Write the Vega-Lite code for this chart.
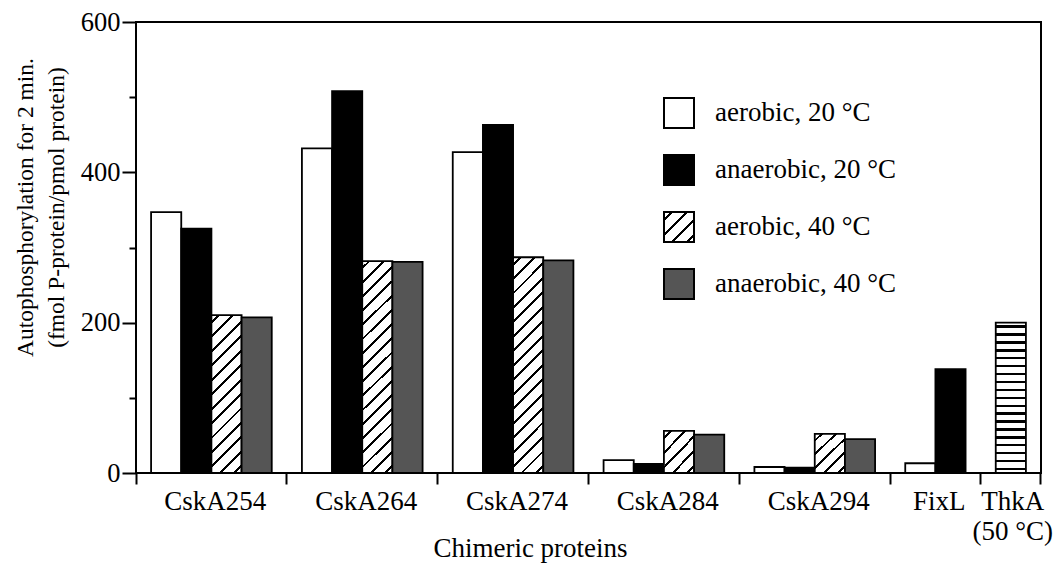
{
  "$schema": "https://vega.github.io/schema/vega-lite/v6.json",
  "width": 905,
  "height": 451,
  "autosize": {"type": "none"},
  "padding": {"left": 136, "top": 22, "right": 18, "bottom": 90},
  "background": "white",
  "config": {
    "font": "Liberation Serif",
    "view": {"stroke": "black", "strokeWidth": 2},
    "axis": {"labelFont": "Liberation Serif", "titleFont": "Liberation Serif", "labelColor": "black", "titleColor": "black", "tickColor": "black", "domainColor": "black", "grid": false, "titleFontWeight": "normal"}
  },
  "data": {
    "values": [
      {"protein": "CskA254", "condition": "aerobic, 20 °C", "bar": "CskA254-1", "value": 347},
      {"protein": "CskA254", "condition": "anaerobic, 20 °C", "bar": "CskA254-2", "value": 325},
      {"protein": "CskA254", "condition": "aerobic, 40 °C", "bar": "CskA254-3", "value": 210},
      {"protein": "CskA254", "condition": "anaerobic, 40 °C", "bar": "CskA254-4", "value": 207},
      {"protein": "CskA264", "condition": "aerobic, 20 °C", "bar": "CskA264-1", "value": 432},
      {"protein": "CskA264", "condition": "anaerobic, 20 °C", "bar": "CskA264-2", "value": 508},
      {"protein": "CskA264", "condition": "aerobic, 40 °C", "bar": "CskA264-3", "value": 282},
      {"protein": "CskA264", "condition": "anaerobic, 40 °C", "bar": "CskA264-4", "value": 281},
      {"protein": "CskA274", "condition": "aerobic, 20 °C", "bar": "CskA274-1", "value": 427},
      {"protein": "CskA274", "condition": "anaerobic, 20 °C", "bar": "CskA274-2", "value": 463},
      {"protein": "CskA274", "condition": "aerobic, 40 °C", "bar": "CskA274-3", "value": 287},
      {"protein": "CskA274", "condition": "anaerobic, 40 °C", "bar": "CskA274-4", "value": 283},
      {"protein": "CskA284", "condition": "aerobic, 20 °C", "bar": "CskA284-1", "value": 17},
      {"protein": "CskA284", "condition": "anaerobic, 20 °C", "bar": "CskA284-2", "value": 12},
      {"protein": "CskA284", "condition": "aerobic, 40 °C", "bar": "CskA284-3", "value": 56},
      {"protein": "CskA284", "condition": "anaerobic, 40 °C", "bar": "CskA284-4", "value": 51},
      {"protein": "CskA294", "condition": "aerobic, 20 °C", "bar": "CskA294-1", "value": 8},
      {"protein": "CskA294", "condition": "anaerobic, 20 °C", "bar": "CskA294-2", "value": 7},
      {"protein": "CskA294", "condition": "aerobic, 40 °C", "bar": "CskA294-3", "value": 52},
      {"protein": "CskA294", "condition": "anaerobic, 40 °C", "bar": "CskA294-4", "value": 45},
      {"protein": "FixL", "condition": "aerobic, 20 °C", "bar": "FixL-1", "value": 13},
      {"protein": "FixL", "condition": "anaerobic, 20 °C", "bar": "FixL-2", "value": 138},
      {"protein": "ThkA", "condition": "ThkA (50 °C)", "bar": "ThkA-1", "value": 200}
    ]
  },
  "mark": {"type": "bar", "stroke": "black", "strokeWidth": 1.8},
  "encoding": {
    "x": {
      "field": "bar",
      "type": "nominal",
      "title": "Chimeric proteins",
      "scale": {
        "type": "band",
        "paddingInner": 0,
        "paddingOuter": 0,
        "range": [-15.08, 920.08],
        "domain": ["end0", "CskA254-1", "CskA254-2", "CskA254-3", "CskA254-4", "gap1", "CskA264-1", "CskA264-2", "CskA264-3", "CskA264-4", "gap2", "CskA274-1", "CskA274-2", "CskA274-3", "CskA274-4", "gap3", "CskA284-1", "CskA284-2", "CskA284-3", "CskA284-4", "gap4", "CskA294-1", "CskA294-2", "CskA294-3", "CskA294-4", "gap5", "FixL-1", "FixL-2", "gap6", "ThkA-1", "end1"]
      },
      "axis": {
        "values": ["end0", "CskA254-2", "gap1", "CskA264-2", "gap2", "CskA274-2", "gap3", "CskA284-2", "gap4", "CskA294-2", "gap5", "FixL-1", "gap6", "ThkA-1", "end1"],
        "labelExpr": "datum.value == 'ThkA-1' ? ['ThkA', '(50 °C)'] : (indexof(datum.value, 'gap') == 0 || indexof(datum.value, 'end') == 0 ? '' : split(datum.value, '-')[0])",
        "labelAngle": 0,
        "labelOverlap": false,
        "labelFontSize": 27,
        "labelLineHeight": 30,
        "labelPadding": 4,
        "labelOffset": {"condition": {"test": "datum.value == 'ThkA-1'", "value": 2}, "value": 19},
        "tickSize": 11,
        "tickWidth": 2,
        "tickOpacity": {"condition": {"test": "indexof(datum.value, 'gap') == 0 || indexof(datum.value, 'end') == 0", "value": 1}, "value": 0},
        "domain": false,
        "titleFontSize": 27,
        "titleX": 394,
        "titleY": 83,
        "titleBaseline": "alphabetic"
      }
    },
    "y": {
      "field": "value",
      "type": "quantitative",
      "title": ["Autophosphorylation for 2 min.", "(fmol P-protein/pmol protein)"],
      "scale": {"domain": [0, 600], "nice": false},
      "axis": {
        "values": [0, 100, 200, 300, 400, 500, 600],
        "labelExpr": "datum.value % 200 == 0 ? datum.label : ''",
        "tickSize": {"condition": {"test": "datum.value % 200 != 0", "value": 7}, "value": 14},
        "tickWidth": 2,
        "domain": false,
        "labelFontSize": 26.5,
        "labelPadding": 2,
        "titleFontSize": 23.5,
        "titleLineHeight": 31,
        "titleX": -104,
        "titleY": 185,
        "titleAngle": -90,
        "titleAlign": "center",
        "titleBaseline": "alphabetic"
      }
    },
    "fill": {
      "field": "condition",
      "type": "nominal",
      "scale": {
        "domain": ["aerobic, 20 °C", "anaerobic, 20 °C", "aerobic, 40 °C", "anaerobic, 40 °C"],
        "range": ["#ffffff", "#000000", {"expr": "{gradient: 'linear', x1: 0, y1: 0, x2: 1, y2: 1, stops: [{offset: 0, color: '#fff'}, {offset: 0.1, color: '#fff'}, {offset: 0.1, color: '#000'}, {offset: 0.15, color: '#000'}, {offset: 0.15, color: '#fff'}, {offset: 0.35, color: '#fff'}, {offset: 0.35, color: '#000'}, {offset: 0.4, color: '#000'}, {offset: 0.4, color: '#fff'}, {offset: 0.6, color: '#fff'}, {offset: 0.6, color: '#000'}, {offset: 0.65, color: '#000'}, {offset: 0.65, color: '#fff'}, {offset: 0.85, color: '#fff'}, {offset: 0.85, color: '#000'}, {offset: 0.9, color: '#000'}, {offset: 0.9, color: '#fff'}, {offset: 1, color: '#fff'}]}"}, "#555555"]
      },
      "legend": {
        "orient": "none",
        "legendX": 527,
        "legendY": 75,
        "title": null,
        "symbolType": "square",
        "symbolSize": 900,
        "symbolStrokeColor": "black",
        "symbolStrokeWidth": 2,
        "symbolOpacity": 1,
        "labelFont": "Liberation Serif",
        "labelFontSize": 27,
        "labelColor": "black",
        "labelOffset": 20,
        "labelLimit": 400,
        "rowPadding": 19,
        "encode": {
          "symbols": {
            "update": {
              "stroke": {"value": "black"},
              "strokeWidth": {"value": 2}
            }
          }
        }
      },
      "condition": [
        {"test": "datum.bar === 'CskA254-3'", "value": {"gradient": "linear", "x1": 0, "y1": 0, "x2": 0.2194, "y2": 1.149, "stops": [
          {"offset": 0, "color": "#fff"},
          {"offset": 0.0308, "color": "#fff"}, {"offset": 0.0308, "color": "#000"}, {"offset": 0.0462, "color": "#000"}, {"offset": 0.0462, "color": "#fff"},
          {"offset": 0.1077, "color": "#fff"}, {"offset": 0.1077, "color": "#000"}, {"offset": 0.1231, "color": "#000"}, {"offset": 0.1231, "color": "#fff"},
          {"offset": 0.1846, "color": "#fff"}, {"offset": 0.1846, "color": "#000"}, {"offset": 0.2, "color": "#000"}, {"offset": 0.2, "color": "#fff"},
          {"offset": 0.2615, "color": "#fff"}, {"offset": 0.2615, "color": "#000"}, {"offset": 0.2769, "color": "#000"}, {"offset": 0.2769, "color": "#fff"},
          {"offset": 0.3385, "color": "#fff"}, {"offset": 0.3385, "color": "#000"}, {"offset": 0.3538, "color": "#000"}, {"offset": 0.3538, "color": "#fff"},
          {"offset": 0.4154, "color": "#fff"}, {"offset": 0.4154, "color": "#000"}, {"offset": 0.4308, "color": "#000"}, {"offset": 0.4308, "color": "#fff"},
          {"offset": 0.4923, "color": "#fff"}, {"offset": 0.4923, "color": "#000"}, {"offset": 0.5077, "color": "#000"}, {"offset": 0.5077, "color": "#fff"},
          {"offset": 0.5692, "color": "#fff"}, {"offset": 0.5692, "color": "#000"}, {"offset": 0.5846, "color": "#000"}, {"offset": 0.5846, "color": "#fff"},
          {"offset": 0.6462, "color": "#fff"}, {"offset": 0.6462, "color": "#000"}, {"offset": 0.6615, "color": "#000"}, {"offset": 0.6615, "color": "#fff"},
          {"offset": 0.7231, "color": "#fff"}, {"offset": 0.7231, "color": "#000"}, {"offset": 0.7385, "color": "#000"}, {"offset": 0.7385, "color": "#fff"},
          {"offset": 0.8, "color": "#fff"}, {"offset": 0.8, "color": "#000"}, {"offset": 0.8154, "color": "#000"}, {"offset": 0.8154, "color": "#fff"},
          {"offset": 0.8769, "color": "#fff"}, {"offset": 0.8769, "color": "#000"}, {"offset": 0.8923, "color": "#000"}, {"offset": 0.8923, "color": "#fff"},
          {"offset": 0.9538, "color": "#fff"}, {"offset": 0.9538, "color": "#000"}, {"offset": 0.9692, "color": "#000"}, {"offset": 0.9692, "color": "#fff"},
          {"offset": 1, "color": "#fff"}
        ]}},
        {"test": "datum.bar === 'CskA264-3' || datum.bar === 'CskA274-3'", "value": {"gradient": "linear", "x1": 0, "y1": 0, "x2": 0.157, "y2": 1.118, "stops": [
          {"offset": 0, "color": "#fff"},
          {"offset": 0.0235, "color": "#fff"}, {"offset": 0.0235, "color": "#000"}, {"offset": 0.0353, "color": "#000"}, {"offset": 0.0353, "color": "#fff"},
          {"offset": 0.0824, "color": "#fff"}, {"offset": 0.0824, "color": "#000"}, {"offset": 0.0941, "color": "#000"}, {"offset": 0.0941, "color": "#fff"},
          {"offset": 0.1412, "color": "#fff"}, {"offset": 0.1412, "color": "#000"}, {"offset": 0.1529, "color": "#000"}, {"offset": 0.1529, "color": "#fff"},
          {"offset": 0.2, "color": "#fff"}, {"offset": 0.2, "color": "#000"}, {"offset": 0.2118, "color": "#000"}, {"offset": 0.2118, "color": "#fff"},
          {"offset": 0.2588, "color": "#fff"}, {"offset": 0.2588, "color": "#000"}, {"offset": 0.2706, "color": "#000"}, {"offset": 0.2706, "color": "#fff"},
          {"offset": 0.3176, "color": "#fff"}, {"offset": 0.3176, "color": "#000"}, {"offset": 0.3294, "color": "#000"}, {"offset": 0.3294, "color": "#fff"},
          {"offset": 0.3765, "color": "#fff"}, {"offset": 0.3765, "color": "#000"}, {"offset": 0.3882, "color": "#000"}, {"offset": 0.3882, "color": "#fff"},
          {"offset": 0.4353, "color": "#fff"}, {"offset": 0.4353, "color": "#000"}, {"offset": 0.4471, "color": "#000"}, {"offset": 0.4471, "color": "#fff"},
          {"offset": 0.4941, "color": "#fff"}, {"offset": 0.4941, "color": "#000"}, {"offset": 0.5059, "color": "#000"}, {"offset": 0.5059, "color": "#fff"},
          {"offset": 0.5529, "color": "#fff"}, {"offset": 0.5529, "color": "#000"}, {"offset": 0.5647, "color": "#000"}, {"offset": 0.5647, "color": "#fff"},
          {"offset": 0.6118, "color": "#fff"}, {"offset": 0.6118, "color": "#000"}, {"offset": 0.6235, "color": "#000"}, {"offset": 0.6235, "color": "#fff"},
          {"offset": 0.6706, "color": "#fff"}, {"offset": 0.6706, "color": "#000"}, {"offset": 0.6824, "color": "#000"}, {"offset": 0.6824, "color": "#fff"},
          {"offset": 0.7294, "color": "#fff"}, {"offset": 0.7294, "color": "#000"}, {"offset": 0.7412, "color": "#000"}, {"offset": 0.7412, "color": "#fff"},
          {"offset": 0.7882, "color": "#fff"}, {"offset": 0.7882, "color": "#000"}, {"offset": 0.8, "color": "#000"}, {"offset": 0.8, "color": "#fff"},
          {"offset": 0.8471, "color": "#fff"}, {"offset": 0.8471, "color": "#000"}, {"offset": 0.8588, "color": "#000"}, {"offset": 0.8588, "color": "#fff"},
          {"offset": 0.9059, "color": "#fff"}, {"offset": 0.9059, "color": "#000"}, {"offset": 0.9176, "color": "#000"}, {"offset": 0.9176, "color": "#fff"},
          {"offset": 0.9647, "color": "#fff"}, {"offset": 0.9647, "color": "#000"}, {"offset": 0.9765, "color": "#000"}, {"offset": 0.9765, "color": "#fff"},
          {"offset": 1, "color": "#fff"}
        ]}},
        {"test": "datum.bar === 'CskA284-3' || datum.bar === 'CskA294-3'", "value": {"gradient": "linear", "x1": 0, "y1": 0, "x2": 0.836, "y2": 1.12, "stops": [
          {"offset": 0, "color": "#fff"},
          {"offset": 0.08, "color": "#fff"}, {"offset": 0.08, "color": "#000"}, {"offset": 0.12, "color": "#000"}, {"offset": 0.12, "color": "#fff"},
          {"offset": 0.28, "color": "#fff"}, {"offset": 0.28, "color": "#000"}, {"offset": 0.32, "color": "#000"}, {"offset": 0.32, "color": "#fff"},
          {"offset": 0.48, "color": "#fff"}, {"offset": 0.48, "color": "#000"}, {"offset": 0.52, "color": "#000"}, {"offset": 0.52, "color": "#fff"},
          {"offset": 0.68, "color": "#fff"}, {"offset": 0.68, "color": "#000"}, {"offset": 0.72, "color": "#000"}, {"offset": 0.72, "color": "#fff"},
          {"offset": 0.88, "color": "#fff"}, {"offset": 0.88, "color": "#000"}, {"offset": 0.92, "color": "#000"}, {"offset": 0.92, "color": "#fff"},
          {"offset": 1, "color": "#fff"}
        ]}},
        {"test": "datum.bar === 'ThkA-1'", "value": {"gradient": "linear", "x1": 0, "y1": 0, "x2": 0, "y2": 1, "stops": [
          {"offset": 0, "color": "#fff"},
          {"offset": 0.0184, "color": "#fff"}, {"offset": 0.0184, "color": "#000"}, {"offset": 0.0342, "color": "#000"}, {"offset": 0.0342, "color": "#fff"},
          {"offset": 0.0711, "color": "#fff"}, {"offset": 0.0711, "color": "#000"}, {"offset": 0.0868, "color": "#000"}, {"offset": 0.0868, "color": "#fff"},
          {"offset": 0.1237, "color": "#fff"}, {"offset": 0.1237, "color": "#000"}, {"offset": 0.1395, "color": "#000"}, {"offset": 0.1395, "color": "#fff"},
          {"offset": 0.1763, "color": "#fff"}, {"offset": 0.1763, "color": "#000"}, {"offset": 0.1921, "color": "#000"}, {"offset": 0.1921, "color": "#fff"},
          {"offset": 0.2289, "color": "#fff"}, {"offset": 0.2289, "color": "#000"}, {"offset": 0.2447, "color": "#000"}, {"offset": 0.2447, "color": "#fff"},
          {"offset": 0.2816, "color": "#fff"}, {"offset": 0.2816, "color": "#000"}, {"offset": 0.2974, "color": "#000"}, {"offset": 0.2974, "color": "#fff"},
          {"offset": 0.3342, "color": "#fff"}, {"offset": 0.3342, "color": "#000"}, {"offset": 0.35, "color": "#000"}, {"offset": 0.35, "color": "#fff"},
          {"offset": 0.3868, "color": "#fff"}, {"offset": 0.3868, "color": "#000"}, {"offset": 0.4026, "color": "#000"}, {"offset": 0.4026, "color": "#fff"},
          {"offset": 0.4395, "color": "#fff"}, {"offset": 0.4395, "color": "#000"}, {"offset": 0.4553, "color": "#000"}, {"offset": 0.4553, "color": "#fff"},
          {"offset": 0.4921, "color": "#fff"}, {"offset": 0.4921, "color": "#000"}, {"offset": 0.5079, "color": "#000"}, {"offset": 0.5079, "color": "#fff"},
          {"offset": 0.5447, "color": "#fff"}, {"offset": 0.5447, "color": "#000"}, {"offset": 0.5605, "color": "#000"}, {"offset": 0.5605, "color": "#fff"},
          {"offset": 0.5974, "color": "#fff"}, {"offset": 0.5974, "color": "#000"}, {"offset": 0.6132, "color": "#000"}, {"offset": 0.6132, "color": "#fff"},
          {"offset": 0.65, "color": "#fff"}, {"offset": 0.65, "color": "#000"}, {"offset": 0.6658, "color": "#000"}, {"offset": 0.6658, "color": "#fff"},
          {"offset": 0.7026, "color": "#fff"}, {"offset": 0.7026, "color": "#000"}, {"offset": 0.7184, "color": "#000"}, {"offset": 0.7184, "color": "#fff"},
          {"offset": 0.7553, "color": "#fff"}, {"offset": 0.7553, "color": "#000"}, {"offset": 0.7711, "color": "#000"}, {"offset": 0.7711, "color": "#fff"},
          {"offset": 0.8079, "color": "#fff"}, {"offset": 0.8079, "color": "#000"}, {"offset": 0.8237, "color": "#000"}, {"offset": 0.8237, "color": "#fff"},
          {"offset": 0.8605, "color": "#fff"}, {"offset": 0.8605, "color": "#000"}, {"offset": 0.8763, "color": "#000"}, {"offset": 0.8763, "color": "#fff"},
          {"offset": 0.9132, "color": "#fff"}, {"offset": 0.9132, "color": "#000"}, {"offset": 0.9289, "color": "#000"}, {"offset": 0.9289, "color": "#fff"},
          {"offset": 0.9658, "color": "#fff"}, {"offset": 0.9658, "color": "#000"}, {"offset": 0.9816, "color": "#000"}, {"offset": 0.9816, "color": "#fff"},
          {"offset": 1, "color": "#fff"}
        ]}}
      ]
    }
  }
}
